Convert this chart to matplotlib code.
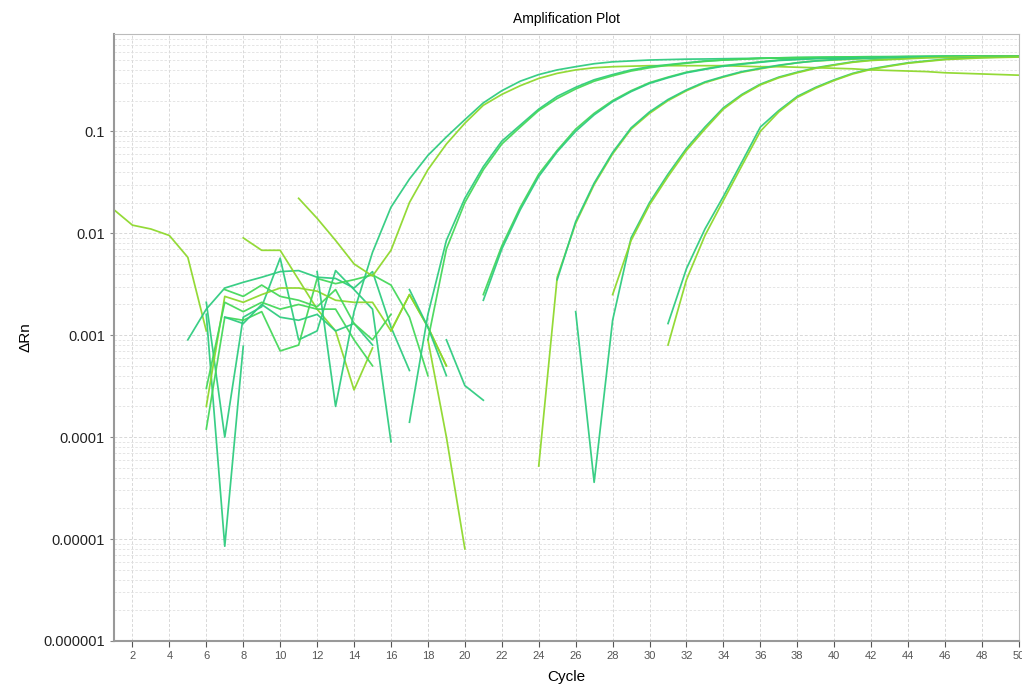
import numpy as np
import matplotlib
matplotlib.use("Agg")
import matplotlib.pyplot as plt
from matplotlib.ticker import FixedLocator, FixedFormatter, LogLocator, NullFormatter

plt.rcParams["font.family"] = ["Liberation Sans", "DejaVu Sans"]

TEAL = "#2fcc80"
GREEN = "#45d85a"
LIME = "#8ed82c"

# amplification curves: (first cycle, values per cycle, colour)
a1 = (12, [0.0042, 0.0002, 0.0017, 0.0065, 0.018, 0.034, 0.058, 0.088, 0.13, 0.19,
           0.25, 0.31, 0.36, 0.40, 0.43, 0.46, 0.48, 0.49, 0.50, 0.505, 0.51, 0.512,
           0.515, 0.518, 0.52, 0.522, 0.525, 0.527, 0.53, 0.532, 0.534, 0.536, 0.538,
           0.54, 0.54, 0.542, 0.543, 0.545, 0.545], TEAL)
a2 = (11, [0.022, 0.014, 0.0085, 0.005, 0.0038, 0.0068, 0.02, 0.042, 0.075, 0.12,
           0.18, 0.23, 0.28, 0.33, 0.37, 0.40, 0.42, 0.43, 0.435, 0.44, 0.44, 0.44,
           0.44, 0.44, 0.435, 0.43, 0.43, 0.425, 0.42, 0.415, 0.41, 0.40, 0.395, 0.39,
           0.385, 0.375, 0.37, 0.365, 0.36, 0.355], LIME)
b1 = (17, [0.00014, 0.0016, 0.0085, 0.022, 0.045, 0.08, 0.115, 0.165, 0.22, 0.27,
           0.32, 0.36, 0.40, 0.43, 0.45, 0.47, 0.49, 0.50, 0.51, 0.52, 0.525, 0.528,
           0.53, 0.532, 0.534, 0.536, 0.538, 0.54, 0.54, 0.542, 0.543, 0.544, 0.545,
           0.545], TEAL)
b2 = (18, [0.0009, 0.007, 0.02, 0.042, 0.075, 0.11, 0.16, 0.21, 0.26, 0.31, 0.35,
           0.39, 0.42, 0.445, 0.465, 0.485, 0.50, 0.51, 0.52, 0.525, 0.53, 0.532, 0.535,
           0.537, 0.54, 0.54, 0.542, 0.543, 0.545, 0.545, 0.546, 0.546, 0.547], GREEN)
c1 = (21, [0.0025, 0.0075, 0.018, 0.038, 0.065, 0.105, 0.15, 0.20, 0.25, 0.30, 0.34,
           0.38, 0.41, 0.44, 0.46, 0.48, 0.50, 0.51, 0.52, 0.525, 0.53, 0.533, 0.536,
           0.538, 0.54, 0.542, 0.544, 0.545, 0.546, 0.547], GREEN)
c2 = (21, [0.0022, 0.007, 0.017, 0.036, 0.063, 0.10, 0.145, 0.195, 0.245, 0.295,
           0.335, 0.375, 0.405, 0.435, 0.455, 0.475, 0.495, 0.505, 0.515, 0.52, 0.525,
           0.53, 0.533, 0.536, 0.538, 0.54, 0.541, 0.542, 0.543, 0.544], TEAL)
d1 = (24, [5.2e-05, 0.0037, 0.0125, 0.03, 0.06, 0.105, 0.15, 0.20, 0.25, 0.30, 0.34,
           0.38, 0.41, 0.44, 0.47, 0.49, 0.50, 0.51, 0.52, 0.528, 0.532, 0.535, 0.538,
           0.54, 0.542, 0.544, 0.545], LIME)
d2 = (25, [0.0035, 0.013, 0.031, 0.062, 0.108, 0.155, 0.205, 0.255, 0.305, 0.345,
           0.385, 0.415, 0.445, 0.47, 0.49, 0.505, 0.515, 0.522, 0.53, 0.535, 0.538,
           0.54, 0.543, 0.545, 0.547, 0.548], TEAL)
e1 = (26, [0.0017, 3.6e-05, 0.0014, 0.009, 0.02, 0.038, 0.068, 0.11, 0.17, 0.23,
           0.29, 0.34, 0.38, 0.42, 0.45, 0.48, 0.50, 0.51, 0.52, 0.53, 0.535, 0.54,
           0.54, 0.545, 0.545], TEAL)
e2 = (28, [0.0025, 0.0085, 0.019, 0.036, 0.065, 0.105, 0.165, 0.225, 0.285, 0.335,
           0.375, 0.415, 0.445, 0.475, 0.495, 0.505, 0.515, 0.525, 0.53, 0.535, 0.54,
           0.542, 0.544], LIME)
f1 = (31, [0.0013, 0.0045, 0.011, 0.023, 0.05, 0.11, 0.16, 0.22, 0.27, 0.32, 0.37,
           0.41, 0.44, 0.47, 0.49, 0.51, 0.52, 0.53, 0.535, 0.54], TEAL)
f2 = (31, [0.0008, 0.0035, 0.0095, 0.021, 0.046, 0.10, 0.155, 0.215, 0.265, 0.315,
           0.365, 0.405, 0.435, 0.465, 0.485, 0.505, 0.515, 0.525, 0.53, 0.535], LIME)

# baseline noise and non-amplifying wells
n1 = (1, [0.017, 0.012, 0.011, 0.0095, 0.0058, 0.0011], LIME)
n2 = (5, [0.0009, 0.0018, 0.0029, 0.0033, 0.0037, 0.0042, 0.0043, 0.0037, 0.0036,
          0.0029, 0.0042, 0.0012, 0.00045], TEAL)
n3 = (8, [0.009, 0.0068, 0.0068, 0.0035, 0.0018, 0.0011, 0.00029, 0.00075], LIME)
n4 = (6, [0.0016, 8.5e-06, 0.00078], TEAL)
n5 = (6, [0.0021, 0.0001, 0.0015, 0.0019, 0.0057, 0.0009, 0.0011, 0.0043, 0.0028,
          0.0018, 9e-05], TEAL)
n6 = (6, [0.00012, 0.0015, 0.0014, 0.0017, 0.0007, 0.0008, 0.0036, 0.0032, 0.0035,
          0.0039, 0.0031, 0.0015, 0.0004], GREEN)
n7 = (6, [0.0002, 0.0024, 0.0021, 0.0025, 0.0029, 0.0029, 0.0027, 0.0022, 0.0021,
          0.0021, 0.0011, 0.0025, 0.0012, 0.0005], LIME)
n8 = (6, [0.0003, 0.0021, 0.0017, 0.0021, 0.0018, 0.002, 0.0018, 0.0018, 0.0009,
          0.0005], GREEN)
n9 = (7, [0.0015, 0.0013, 0.002, 0.0015, 0.0014, 0.0016, 0.0011, 0.0013, 0.0008],
      TEAL)
n10 = (7, [0.0028, 0.0024, 0.0031, 0.0024, 0.0022, 0.0019, 0.0028, 0.0013, 0.0009,
           0.0016], GREEN)
n11 = (18, [0.0009, 0.0001, 8e-06], LIME)
n12 = (19, [0.0009, 0.00032, 0.00023], TEAL)
n13 = (16, [0.0011, 0.0025, 0.0012, 0.0005], LIME)
n14 = (17, [0.0028, 0.0012, 0.0004], TEAL)

curves = [n1, n2, n3, n4, n5, n6, n7, n8, n9, n10, n11, n12, n13, n14,
          a1, a2, b1, b2, c1, c2, d1, d2, e1, e2, f1, f2]

fig = plt.figure(figsize=(10.22, 6.87), dpi=100)
ax = fig.add_axes([0.1115, 0.067, 0.8855, 0.8835])

for start, vals, col in curves:
    cyc = np.arange(start, start + len(vals))
    ax.plot(cyc, vals, color=col, lw=1.25, alpha=0.95)

ax.set_yscale("log")
ax.set_xlim(1, 50)
ax.set_ylim(1e-6, 0.9)

ax.xaxis.set_major_locator(FixedLocator(np.arange(2, 51, 2)))
ax.yaxis.set_major_locator(FixedLocator([1e-6, 1e-5, 1e-4, 1e-3, 1e-2, 1e-1]))
ax.yaxis.set_major_formatter(FixedFormatter(
    ["0.000001", "0.00001", "0.0001", "0.001", "0.01", "0.1"]))
ax.yaxis.set_minor_locator(LogLocator(base=10, subs=np.arange(2, 10)))
ax.yaxis.set_minor_formatter(NullFormatter())

ax.grid(True, which="major", axis="both", color="#d8d8d8", ls=(0, (3, 2)), lw=0.7)
ax.grid(True, which="minor", axis="y", color="#e0e0e0", ls=(0, (3, 2)), lw=0.6)
ax.set_axisbelow(True)

ax.tick_params(axis="x", labelsize=8, colors="#555555", length=4, width=0.8)
ax.tick_params(axis="y", labelsize=10.5, labelcolor="#222222", color="#888888",
               length=3, width=0.8)
ax.tick_params(axis="y", which="minor", length=0)

for side in ["left", "bottom"]:
    ax.spines[side].set_color("#999999")
    ax.spines[side].set_linewidth(1.5)
for side in ["top", "right"]:
    ax.spines[side].set_color("#bbbbbb")
    ax.spines[side].set_linewidth(0.8)

ax.set_title("Amplification Plot", fontsize=10, pad=8)
ax.set_xlabel("Cycle", fontsize=11, labelpad=6)
ax.set_ylabel("\u0394Rn", fontsize=11, labelpad=8)

fig.savefig("out.png", dpi=100, facecolor="white")
